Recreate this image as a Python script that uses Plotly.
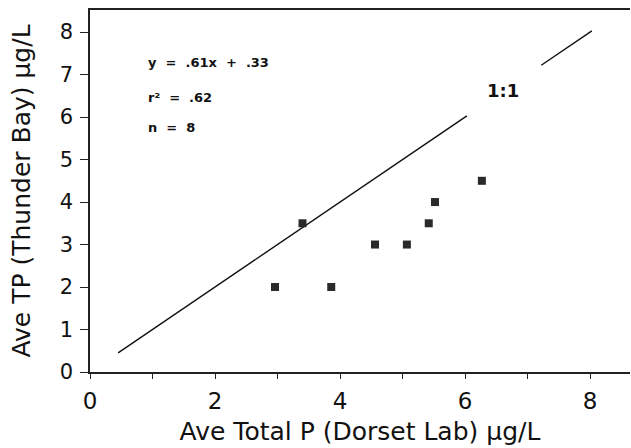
import plotly.graph_objects as go

# Data
dorset_tp = [2.96, 3.40, 3.86, 4.56, 5.07, 5.42, 5.52, 6.27]
thunder_bay_tp = [2.0, 3.5, 2.0, 3.0, 3.0, 3.5, 4.0, 4.5]

# 1:1 reference line (with a gap for its label)
line_x = [0.45, 6.03, None, 7.22, 8.03]
line_y = [0.45, 6.03, None, 7.22, 8.03]

x_tick_vals = [0, 1, 2, 3, 4, 5, 6, 7, 8]
x_tick_text = ["0", "", "2", "", "4", "", "6", "", "8"]
y_tick_vals = [0, 1, 2, 3, 4, 5, 6, 7, 8]

FONT = "DejaVu Sans"

fig = go.Figure()
fig.add_trace(go.Scatter(
    x=line_x, y=line_y, mode="lines",
    line=dict(color="#111111", width=1.4),
    connectgaps=False, showlegend=False, hoverinfo="skip"))
fig.add_trace(go.Scatter(
    x=dorset_tp, y=thunder_bay_tp, mode="markers",
    marker=dict(symbol="square", size=8, color="#2a2a2a"),
    showlegend=False))

fig.add_annotation(x=6.6, y=6.62, text="<b>1:1</b>", showarrow=False,
                   font=dict(family=FONT, size=18, color="#111111"))
stats = ["<b>y  =  .61x  +  .33</b>", "<b>r²  =  .62</b>", "<b>n  =  8</b>"]
stats_y = [7.29, 6.47, 5.76]
for t, yy in zip(stats, stats_y):
    fig.add_annotation(x=0.9, y=yy, text=t, showarrow=False, xanchor="left",
                       font=dict(family=FONT, size=13, color="#111111"))

fig.update_layout(
    width=631, height=448,
    margin=dict(l=90, r=1, t=10, b=76),
    paper_bgcolor="white", plot_bgcolor="white",
    font=dict(family=FONT, color="#111111"),
    xaxis=dict(
        range=[0, 8.64], tickvals=x_tick_vals, ticktext=x_tick_text,
        ticks="outside", ticklen=5, tickwidth=1.2, tickcolor="#222",
        showline=True, linecolor="#222", linewidth=1.6, mirror=True,
        showgrid=False, zeroline=False, ticklabelstandoff=3,
        tickfont=dict(size=23, family=FONT),
        title=dict(text="Ave Total P (Dorset Lab) µg/L",
                   font=dict(size=25, family=FONT), standoff=9),
    ),
    yaxis=dict(
        range=[0, 8.52], tickvals=y_tick_vals,
        ticks="outside", ticklen=8, tickwidth=1.4, tickcolor="#222",
        showline=True, linecolor="#222", linewidth=1.6,
        showgrid=False, zeroline=False, ticklabelstandoff=3,
        tickfont=dict(size=21, family=FONT),
        title=dict(text="Ave TP (Thunder Bay) µg/L",
                   font=dict(size=25, family=FONT), standoff=22),
    ),
)

fig.write_html("out.html")
